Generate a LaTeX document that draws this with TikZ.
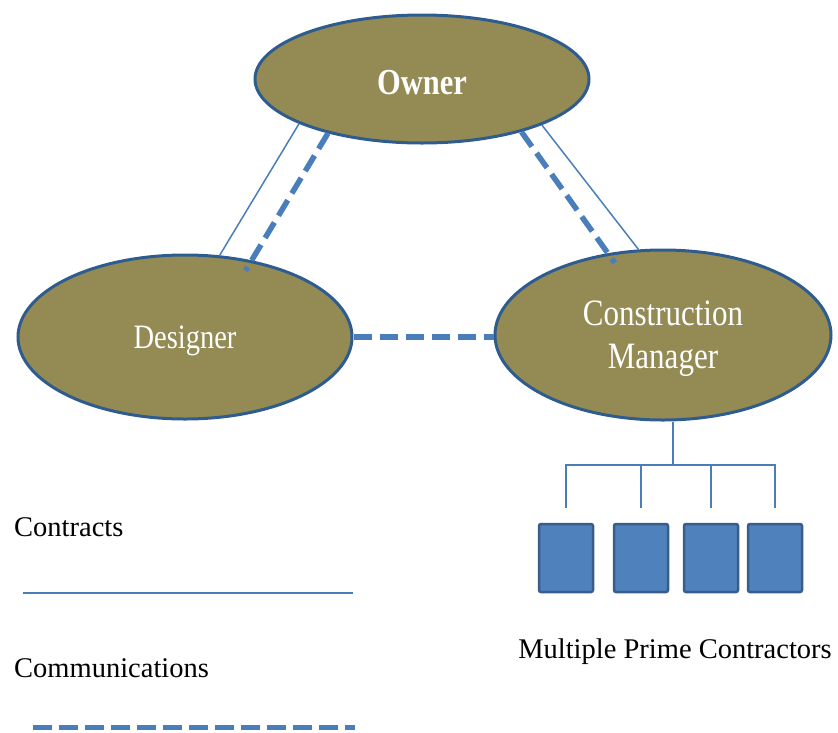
\documentclass[tikz,border=0pt]{standalone}
\usepackage{fontspec}
\usepackage{graphicx}
\setmainfont{Liberation Serif}
\usetikzlibrary{shapes.geometric}
\definecolor{olivefill}{HTML}{948A54}
\definecolor{rimblue}{HTML}{2F5C8F}
\definecolor{linkblue}{HTML}{4A7EBB}
\definecolor{boxfill}{HTML}{4F81BD}
\definecolor{boxrim}{HTML}{385D8A}
% party names are set a little taller than wide, and sit slightly low
\newcommand{\tallname}[1]{\raisebox{-4pt}[\height][\depth]{\scalebox{1}[1.2]{#1}}}

\begin{document}
\begin{tikzpicture}[x=1pt,y=-1pt,
  party/.style={ellipse, draw=rimblue, line width=3pt, fill=olivefill, inner sep=0pt,
    text=white, align=center, font=\fontsize{28.5}{36}\selectfont},
  contract/.style={draw=linkblue, line width=1.5pt},
  comm/.style={draw=linkblue, line width=5.5pt, dash pattern=on 18pt off 8pt},
  firm/.style={draw=boxrim, fill=boxfill, line width=2.5pt, rounded corners=2pt,
    minimum width=54pt, minimum height=68pt, inner sep=0pt},
  legendtext/.style={font=\fontsize{28.5}{32}\selectfont, inner sep=0pt, anchor=west}]

\useasboundingbox (0,0) rectangle (838,732);

% the three parties
\node[party, minimum width=334pt, minimum height=128pt]
  (owner) at (422,79) {\tallname{\fontsize{30.5}{36}\selectfont\bfseries Owner}};
\node[party, minimum width=334pt, minimum height=164pt] (designer) at (185,337)
  {\tallname{Designer}};
\node[party, minimum width=336pt, minimum height=170pt] (cm) at (663,335)
  {\tallname{\fontsize{31}{36}\selectfont
    \vbox{\halign{\hfil#\hfil\cr Construction\cr Manager\cr}}}};

% contract and communication links
\draw[contract] (owner.200.7) -- (designer.67.3);
\draw[comm, shorten >=-12pt] (owner.210.8) -- (designer.49.5);
\draw[contract] (owner.339.6) -- (cm.106.8);
\draw[comm, shorten >=-12pt] (owner.332.5) -- (cm.124.2);
\draw[comm] (designer.east) -- (designer.east -| cm.west);

% prime contractors under the construction manager
\node[firm] (p1) at (566,558) {};
\node[firm] (p2) at (641,558) {};
\node[firm] (p3) at (711,558) {};
\node[firm] (p4) at (775,558) {};
\coordinate (hub) at ([xshift=10pt]cm.south);
\coordinate (bus) at (673,465);
\draw[contract, line width=2pt] (hub) -- (bus);
\draw[contract, line width=2pt] ([yshift=15pt]p1.north) -- (p1.north |- bus)
  -- (p4.north |- bus) -- ([yshift=15pt]p4.north);
\draw[contract, line width=2pt] (p2.north |- bus) -- ([yshift=15pt]p2.north);
\draw[contract, line width=2pt] (p3.north |- bus) -- ([yshift=15pt]p3.north);
\node[font=\fontsize{28.5}{32}\selectfont, inner sep=0pt] (mpc) at (675,652)
  {Multiple Prime Contractors};

% legend
\node[legendtext] (contracts) at (14,527) {Contracts};
\coordinate (c1) at (23,593);
\coordinate (c2) at (353,593);
\draw[contract, line width=2pt] (c1) -- (c2);
\node[legendtext] (comms) at (14,668) {Communications};
\coordinate (m1) at (33,727);
\coordinate (m2) at (355,727);
\draw[comm, line width=5pt, dash pattern=on 19pt off 7pt] (m1) -- (m2);
\end{tikzpicture}
\end{document}
